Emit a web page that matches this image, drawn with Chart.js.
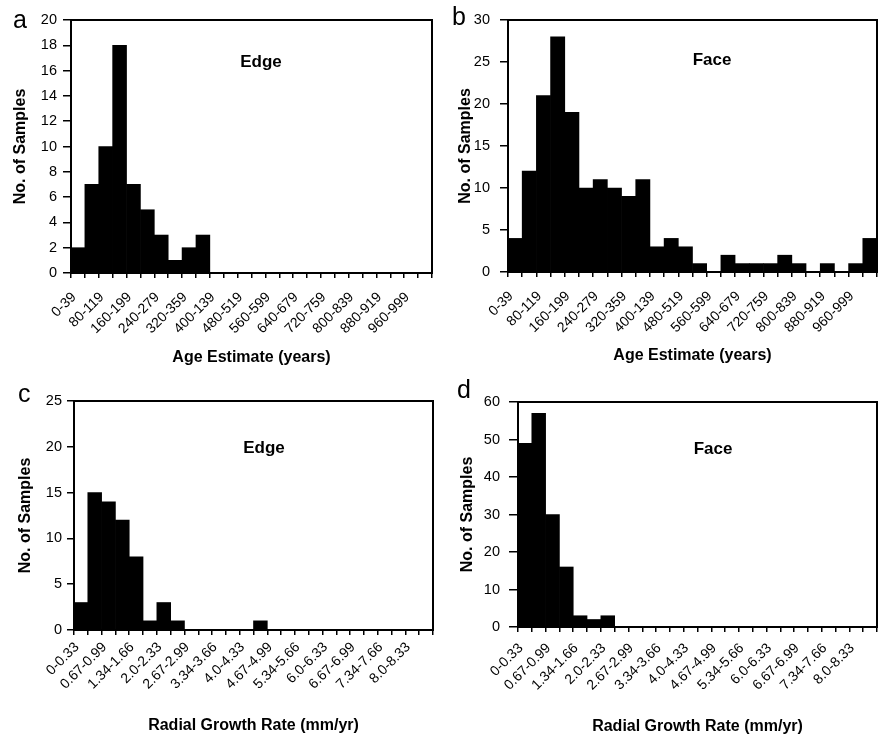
<!DOCTYPE html>
<html lang="en">
<head>
<meta charset="UTF-8">
<title>Sample histograms</title>
<style>
  body { margin: 0; background: #fff; }
  .panel { position: absolute; }
</style>
</head>
<body>
<canvas id="chartA" class="panel" width="440" height="380" style="left:0;top:0"></canvas>
<canvas id="chartB" class="panel" width="438" height="380" style="left:440px;top:0"></canvas>
<canvas id="chartC" class="panel" width="440" height="368" style="left:0;top:370px"></canvas>
<canvas id="chartD" class="panel" width="438" height="368" style="left:440px;top:370px"></canvas>

<script src="https://cdn.jsdelivr.net/npm/chart.js"></script>
<script>
// every other bin is labelled on the category axes
const ageLabels = ['0-39', '', '80-119', '', '160-199', '', '240-279', '', '320-359', '', '400-139', '',
  '480-519', '', '560-599', '', '640-679', '', '720-759', '', '800-839', '', '880-919', '', '960-999', ''];
const rateLabels = ['0-0.33', '', '0.67-0.99', '', '1.34-1.66', '', '2.0-2.33', '', '2.67-2.99', '', '3.34-3.66', '',
  '4.0-4.33', '', '4.67-4.99', '', '5.34-5.66', '', '6.0-6.33', '', '6.67-6.99', '', '7.34-7.66', '', '8.0-8.33', ''];

const ageEdge = [2, 7, 10, 18, 7, 5, 3, 1, 2, 3, 0, 0, 0, 0, 0, 0, 0, 0, 0, 0, 0, 0, 0, 0, 0, 0];
const ageFace = [4, 12, 21, 28, 19, 10, 11, 10, 9, 11, 3, 4, 3, 1, 0, 2, 1, 1, 1, 2, 1, 0, 1, 0, 1, 4];
const rateEdge = [3, 15, 14, 12, 8, 1, 3, 1, 0, 0, 0, 0, 0, 1, 0, 0, 0, 0, 0, 0, 0, 0, 0, 0, 0, 0];
const rateFace = [49, 57, 30, 16, 3, 2, 3, 0, 0, 0, 0, 0, 0, 0, 0, 0, 0, 0, 0, 0, 0, 0, 0, 0, 0, 0];

const FONT = '"Liberation Sans", Arial, sans-serif';

// box around the plot area
const framePlugin = {
  id: 'frame',
  afterDatasetsDraw(chart) {
    const { ctx, chartArea: a } = chart;
    ctx.save();
    ctx.strokeStyle = '#000';
    ctx.lineWidth = 2;
    ctx.strokeRect(a.left, a.top, a.right - a.left, a.bottom - a.top);
    ctx.restore();
  }
};

// panel letter and the Edge / Face caption
const panelTextPlugin = {
  id: 'panelText',
  afterDraw(chart, args, opts) {
    const ctx = chart.ctx;
    ctx.save();
    ctx.fillStyle = '#000';
    ctx.textBaseline = 'alphabetic';
    ctx.textAlign = 'left';
    ctx.font = '25px ' + FONT;
    ctx.fillText(opts.letter, opts.lx, opts.ly);
    ctx.textAlign = 'center';
    ctx.textBaseline = 'middle';
    ctx.font = 'bold 17px ' + FONT;
    ctx.fillText(opts.caption, opts.cx, opts.cy);
    ctx.restore();
  }
};

function histogram(id, o) {
  return new Chart(document.getElementById(id), {
    type: 'bar',
    data: {
      labels: o.labels,
      datasets: [{
        data: o.values,
        backgroundColor: '#000',
        borderWidth: 0,
        barPercentage: 1,
        categoryPercentage: 1
      }]
    },
    options: {
      responsive: false,
      animation: false,
      layout: { padding: o.padding },
      plugins: {
        legend: { display: false },
        tooltip: { enabled: false },
        panelText: o.text
      },
      scales: {
        x: {
          grid: { offset: true, drawOnChartArea: false, tickLength: 5, color: '#000', lineWidth: 1.5 },
          border: { display: false },
          ticks: {
            autoSkip: false, minRotation: 45, maxRotation: 45,
            padding: o.xPad, labelOffset: -4, color: '#000',
            font: { family: FONT, size: 14 }
          },
          title: {
            display: true, text: o.xTitle, color: '#000', padding: 0,
            font: { family: FONT, size: 16, weight: 'bold' }
          },
          // fixed axis box; rotated labels may hang outside it
          afterFit: s => {
            s.height = o.xHeight;
            s.paddingLeft = 0;
            s.paddingRight = 0;
          }
        },
        y: {
          min: 0, max: o.max,
          grid: { drawOnChartArea: false, tickLength: o.yTick, color: '#000', lineWidth: 1.5 },
          border: { display: false },
          ticks: {
            stepSize: o.step, padding: o.yPad, color: '#000',
            font: { family: FONT, size: 14.5 }
          },
          title: {
            display: true, text: 'No. of Samples', color: '#000', padding: 0,
            font: { family: FONT, size: 16, weight: 'bold' }
          },
          afterFit: s => {
            s.width = o.yWidth;
            s.paddingTop = 0;
            s.paddingBottom = 0;
          }
        }
      }
    },
    plugins: [framePlugin, panelTextPlugin]
  });
}

histogram('chartA', {
  labels: ageLabels, values: ageEdge, max: 20, step: 2,
  xTitle: 'Age Estimate (years)',
  padding: { left: 11, top: 20, right: 8, bottom: 13 },
  yWidth: 60, xHeight: 94, xPad: 11, yTick: 8, yPad: 6,
  text: { letter: 'a', lx: 13, ly: 28, caption: 'Edge', cx: 261, cy: 62 }
});

histogram('chartB', {
  labels: ageLabels, values: ageFace, max: 30, step: 5,
  xTitle: 'Age Estimate (years)',
  padding: { left: 16, top: 20, right: 1, bottom: 15 },
  yWidth: 52, xHeight: 93, xPad: 11, yTick: 8, yPad: 10,
  text: { letter: 'b', lx: 12, ly: 25, caption: 'Face', cx: 272, cy: 60 }
});

histogram('chartC', {
  labels: rateLabels, values: rateEdge, max: 25, step: 5,
  xTitle: 'Radial Growth Rate (mm/yr)',
  padding: { left: 16, top: 31, right: 7, bottom: 3 },
  yWidth: 58, xHeight: 105, xPad: 4, yTick: 7, yPad: 5,
  text: { letter: 'c', lx: 18, ly: 32, caption: 'Edge', cx: 264, cy: 78 }
});

histogram('chartD', {
  labels: rateLabels, values: rateFace, max: 60, step: 10,
  xTitle: 'Radial Growth Rate (mm/yr)',
  padding: { left: 18, top: 32, right: 1, bottom: 2 },
  yWidth: 60, xHeight: 109, xPad: 8, yTick: 9, yPad: 9,
  text: { letter: 'd', lx: 17, ly: 28, caption: 'Face', cx: 273, cy: 79 }
});
</script>
</body>
</html>
